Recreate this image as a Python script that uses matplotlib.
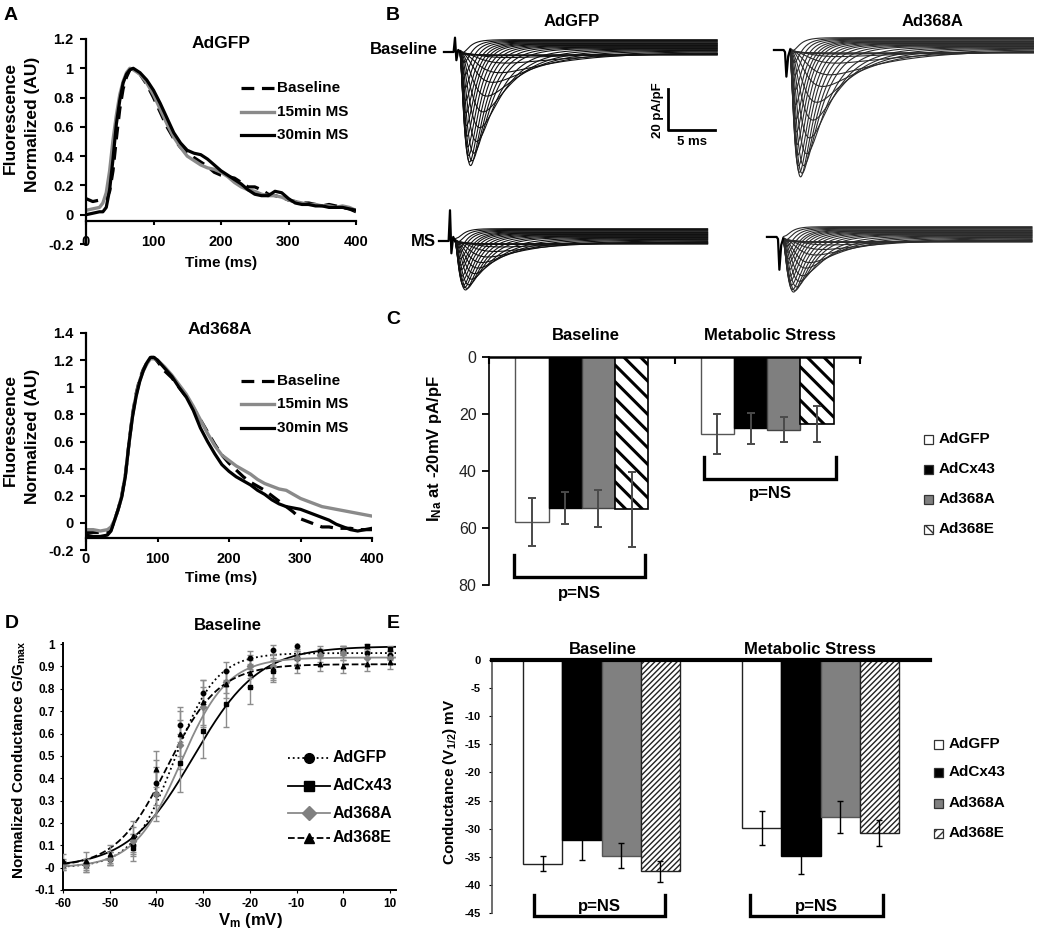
import numpy as np
import matplotlib
matplotlib.use("Agg")
import matplotlib.pyplot as plt
from matplotlib.patches import Rectangle
from matplotlib.lines import Line2D

# ---------------- data ----------------
# Panel A: normalized fluorescence transients
t_gfp = [0, 10, 20, 25, 30, 35, 40, 45, 50, 55, 60, 65, 70, 80, 90, 100, 110, 120, 130, 140,
         150, 160, 170, 180, 190, 200, 210, 220, 230, 240, 250, 260, 270, 280, 290, 300, 310,
         320, 330, 340, 350, 360, 370, 380, 390, 400]
gfp_baseline = [.11, .09, .10, .10, .11, .16, .30, .52, .72, .86, .94, .99, 1.0, .96, .89, .80,
                .70, .60, .52, .46, .42, .39, .36, .33, .29, .27, .26, .25, .22, .19, .19, .17,
                .14, .13, .12, .10, .09, .08, .08, .07, .06, .07, .06, .05, .04, .02]
gfp_15min = [.03, .04, .05, .08, .15, .30, .51, .68, .82, .91, .97, 1.0, .99, .96, .90, .82, .72,
             .62, .53, .46, .40, .37, .34, .32, .31, .29, .26, .22, .19, .17, .16, .14, .13, .13,
             .12, .10, .09, .08, .07, .07, .06, .06, .05, .06, .05, .03]
gfp_30min = [.00, .01, .02, .02, .05, .17, .38, .62, .78, .90, .96, .99, 1.0, .97, .92, .85, .76,
             .66, .56, .49, .44, .42, .41, .38, .34, .30, .27, .24, .21, .17, .14, .13, .13, .16,
             .15, .11, .08, .07, .07, .06, .06, .05, .05, .05, .04, .03]

t_368 = [0, 10, 20, 30, 35, 40, 45, 50, 55, 60, 65, 70, 75, 80, 85, 90, 95, 100, 110, 120, 130,
         140, 150, 160, 170, 180, 190, 200, 210, 220, 230, 240, 250, 260, 270, 280, 290, 300,
         310, 320, 330, 340, 350, 360, 370, 380, 390, 400]
a368_baseline = [-.07, -.07, -.07, -.07, -.05, .02, .10, .20, .35, .58, .80, .95, 1.06, 1.13, 1.18,
                 1.22, 1.22, 1.19, 1.12, 1.07, 1.0, .93, .85, .76, .67, .58, .50, .44, .39, .34,
                 .30, .27, .24, .20, .16, .12, .08, .03, .01, -.01, -.03, -.03, -.04, -.04, -.04,
                 -.05, -.05, -.05]
a368_15min = [-.05, -.05, -.06, -.05, -.03, .02, .10, .20, .35, .58, .79, .94, 1.05, 1.12, 1.17,
              1.21, 1.21, 1.20, 1.15, 1.09, 1.02, .95, .86, .76, .66, .57, .50, .46, .42, .39,
              .36, .32, .29, .27, .25, .24, .21, .18, .16, .14, .12, .11, .10, .09, .08, .07,
              .06, .05]
a368_30min = [-.09, -.10, -.10, -.09, -.06, .02, .10, .19, .34, .58, .78, .93, 1.04, 1.12, 1.18,
              1.22, 1.22, 1.20, 1.14, 1.08, 1.0, .93, .83, .70, .60, .51, .43, .38, .34, .31,
              .28, .24, .21, .17, .14, .12, .11, .10, .08, .06, .04, .02, -.01, -.03, -.05, -.06,
              -.05, -.04]
a_series = ["Baseline", "15min MS", "30min MS"]

# Panel B: sodium current families (peak pA/pF per voltage step, kinetics in ms)
steps_mv = [-80, -75, -70, -65, -60, -55, -50, -45, -40, -35, -30, -25, -20, -15, -10, -5, 0,
            5, 10, 15, 20, 25, 30, 35, 40]
peak_gfp_base = [0, .3, .8, 2, 5, 10, 15, 22, 30, 38, 45, 51, 55, 57.5, 56, 53, 49, 44, 39, 33,
                 27, 21, 15, 9, 4]
peak_368a_base = [0, .3, 1, 2.5, 6, 12, 18, 26, 35, 44, 52, 58, 62, 64, 62, 59, 54, 49, 43, 37,
                  30, 23, 16, 10, 4]
peak_gfp_ms = [0, .2, .5, 1, 2.5, 5, 8, 11, 14, 17, 20, 23, 25, 26, 25, 24, 22, 20, 17, 15, 12,
               9, 7, 4, 2]
peak_368a_ms = [0, .2, .5, 1, 2.5, 5, 8, 12, 15, 19, 22, 25, 27, 28, 27, 25, 23, 21, 18, 15, 13,
                10, 7, 4, 2]
tau_m = [2.4, 2.3, 2.2, 2.1, 2.0, 1.8, 1.55, 1.3, 1.15, 1.0, .85, .72, .62, .55, .5, .45, .41,
         .38, .35, .33, .31, .29, .28, .27, .26]
tau_h = [10, 9.5, 9, 8.5, 8, 6.5, 5, 4, 3.3, 2.8, 2.4, 2.0, 1.8, 1.6, 1.45, 1.35, 1.25, 1.15,
         1.1, 1.05, 1.0, .95, .9, .88, .85]
leak = [-1.5, -1.2, -1, -.7, -.4, -.1, .2, .5, .8, 1.1, 1.4, 1.7, 2, 2.3, 2.6, 2.9, 3.2, 3.5,
        3.8, 4.1, 4.4, 4.8, 5.2, 5.6, 6.0]
art_t = [-1.2, -0.15, 0.0, 0.15, 0.35, 0.55]
art_gfp_base = [0, 0, 7, -4, 1, 0]
art_368a_base = [0, 0, -1, -13, -3, 0]
art_gfp_ms = [0, 0, 15, -6, 2, 0]
art_368a_ms = [1, 1, 0, -15, -3, 0]
trace_end = [28.5, 27.0, 28.0, 27.6]

# Panel C: I_Na at -20 mV
groups = ["Baseline", "Metabolic Stress"]
constructs = ["AdGFP", "AdCx43", "Ad368A", "Ad368E"]
ina_baseline = [57.9, 53.0, 53.0, 53.5]
ina_baseline_err = [8.5, 5.5, 6.5, 13.0]
ina_ms = [27.0, 25.0, 25.5, 23.5]
ina_ms_err = [7.0, 5.5, 4.3, 6.3]

# Panel D: conductance-voltage
vm = [-60, -55, -50, -45, -40, -35, -30, -25, -20, -15, -10, -5, 0, 5, 10]
g_gfp = [.02, .02, .04, .10, .38, .64, .78, .88, .94, .975, .99, .97, .97, .96, .95]
g_cx43 = [.01, .01, .04, .09, .33, .47, .61, .73, .81, .88, .94, .96, .97, .99, .98]
g_368a = [.01, .01, .04, .12, .33, .55, .72, .83, .90, .90, .94, .95, .96, .94, .94]
g_368e = [.03, .03, .06, .14, .44, .60, .74, .82, .87, .89, .90, .91, .90, .91, .92]
g_gfp_err = [.02, .02, .03, .05, .10, .08, .06, .04, .03, .02, .02, .02, .02, .02, .02]
g_cx43_err = [.02, .03, .03, .06, .10, .13, .12, .10, .08, .05, .03, .02, .02, .01, .01]
g_368a_err = [.02, .03, .03, .06, .12, .11, .09, .05, .05, .05, .04, .03, .03, .03, .03]
g_368e_err = [.03, .04, .04, .07, .08, .10, .10, .06, .06, .05, .03, .03, .03, .03, .03]
fit_gmax = [0.96, 0.99, 0.94, 0.91]
fit_slope = [4.5, 7.0, 5.0, 5.5]

# Panel E: V1/2 of conductance
v12_baseline = [-36.2, -32.1, -34.8, -37.6]
v12_baseline_err = [1.4, 3.4, 2.2, 1.8]
v12_ms = [-29.9, -34.9, -27.9, -30.8]
v12_ms_err = [3.0, 3.2, 2.8, 2.3]

# ---------------- style ----------------
plt.rcParams.update({
    "font.family": "Liberation Sans",
    "mathtext.fontset": "custom",
    "mathtext.rm": "Liberation Sans",
    "mathtext.bf": "Liberation Sans:bold",
    "mathtext.it": "Liberation Sans:italic",
    "mathtext.default": "bf",
})
W, H = 1050, 931
fig = plt.figure(figsize=(W / 100, H / 100), dpi=100)


def add_ax(l, t, r, b):
    return fig.add_axes([l / W, 1 - b / H, (r - l) / W, (b - t) / H])


def ftext(x, y, s, **kw):
    kw.setdefault("ha", "center")
    kw.setdefault("va", "center")
    return fig.text(x / W, 1 - y / H, s, **kw)


def fline(xs, ys, **kw):
    fig.add_artist(Line2D([x / W for x in xs], [1 - y / H for y in ys],
                          transform=fig.transFigure, **kw))


GRAY_LINE = "#8a8a8a"
DASH = (0, (4, 2.4))

# panel letters
for lab, (x, y) in zip("ABCDE", [(11, 15), (393, 15), (393, 320), (12, 623), (393, 623)]):
    ftext(x, y, lab, fontsize=14, fontweight="bold")


# ---------------- Panel A ----------------
def panel_a(box, t, vals, ylim, yticks, xspine, title_xy, leg_y, ylab_y, xlab_y):
    ax = add_ax(*box)
    styles = [dict(color="k", ls=DASH, lw=2.3),
              dict(color=GRAY_LINE, ls="-", lw=2.4),
              dict(color="k", ls="-", lw=2.3)]
    for v, st in zip(vals, styles):
        ax.plot(t, v, solid_capstyle="round", **st)
    ax.set_xlim(0, 400)
    ax.set_ylim(*ylim)
    for s in ("top", "right"):
        ax.spines[s].set_visible(False)
    ax.spines["bottom"].set_position(("data", xspine))
    for s in ("left", "bottom"):
        ax.spines[s].set_linewidth(1.6)
    ax.set_yticks(yticks)
    ax.set_yticklabels([("%g" % v) for v in yticks], fontsize=10.5, fontweight="bold")
    ax.set_xticks([0, 100, 200, 300, 400])
    ax.set_xticklabels(["0", "100", "200", "300", "400"], fontsize=10.5, fontweight="bold")
    ax.tick_params(axis="y", direction="out", length=4, width=1.5, pad=5)
    ax.tick_params(axis="x", direction="out", length=3, width=1.5, pad=7)
    ax.patch.set_alpha(0)
    ftext(*title_xy, "AdGFP" if t is t_gfp else "Ad368A", fontsize=12.5, fontweight="bold")
    ftext(221, xlab_y, "Time (ms)", fontsize=11, fontweight="bold")
    ftext(10, ylab_y, "Fluorescence", fontsize=12.5, fontweight="bold", rotation=90)
    ftext(33, ylab_y + 6, "Normalized (AU)", fontsize=12.5, fontweight="bold", rotation=90)
    for lab, st, y in zip(a_series, styles, leg_y):
        fline([241, 274], [y, y], **st)
        ftext(277, y, lab, fontsize=11, fontweight="bold", ha="left")
    return ax


panel_a((86, 39, 356, 244), t_gfp, [gfp_baseline, gfp_15min, gfp_30min], (-0.2, 1.2),
        [-0.2, 0, 0.2, 0.4, 0.6, 0.8, 1.0, 1.2], -0.045, (221, 44), [88, 112, 135], 118, 263)
panel_a((86, 333, 372, 550), t_368, [a368_baseline, a368_15min, a368_30min], (-0.2, 1.4),
        [-0.2, 0, 0.2, 0.4, 0.6, 0.8, 1.0, 1.2, 1.4], -0.11, (220, 330), [381, 404, 428], 430, 578)

# ---------------- Panel B ----------------
PX_MS, PX_UNIT = 9.2, 2.05
panels_b = [
    (455, 52, peak_gfp_base, art_gfp_base, trace_end[0], "#111111", (-68, 12)),
    (785, 50, peak_368a_base, art_368a_base, trace_end[1], "#2b2b2b", (-72, 14)),
    (450, 241, peak_gfp_ms, art_gfp_ms, trace_end[2], "#111111", (-34, 17)),
    (778, 239, peak_368a_ms, art_368a_ms, trace_end[3], "#2b2b2b", (-34, 12)),
]
for t0, base, peaks, art, tend, col, ylim in panels_b:
    xlo, xhi = -1.6, 29.0
    ax = add_ax(t0 + xlo * PX_MS, base - ylim[1] * PX_UNIT, t0 + xhi * PX_MS, base - ylim[0] * PX_UNIT)
    ax.set_xlim(xlo, xhi)
    ax.set_ylim(*ylim)
    ax.axis("off")
    t = np.linspace(0.55, tend, 700)
    td = np.clip(t - 0.45, 0, None)
    fine = np.linspace(0, 60, 6000)
    for a, tm, th, lk in zip(peaks, tau_m, tau_h, leak):
        shape = (1 - np.exp(-td / tm)) ** 3 * np.exp(-td / th)
        pk = ((1 - np.exp(-fine / tm)) ** 3 * np.exp(-fine / th)).max()
        cur = -a * shape / pk + lk * (1 - np.exp(-td / 0.5))
        ax.plot(t, cur, color=col, lw=0.8)
    ax.plot(art_t, art, color="k", lw=1.6)

ftext(572, 22, "AdGFP", fontsize=12, fontweight="bold")
ftext(933, 22, "Ad368A", fontsize=12, fontweight="bold")
ftext(438, 50, "Baseline", fontsize=12, fontweight="bold", ha="right")
ftext(436, 242, "MS", fontsize=12, fontweight="bold", ha="right")
# scale bar (20 pA/pF, 5 ms)
fline([668, 668, 715], [89, 130, 130], color="k", lw=2.0)
ftext(658, 110, "20 pA/pF", fontsize=9.5, fontweight="bold", rotation=90)
ftext(692, 142, "5 ms", fontsize=9.5, fontweight="bold")


# ---------------- Panels C & E (bar charts) ----------------
def bar_panel(box, values, errs, ylim, yticks, ylabels, styles, ecolor, err_lw, capsize,
              tick_kw, spine_lw, brackets, leg_x, leg_y, ytl_kw, title_y, title_x):
    ax = add_ax(*box)
    ax.set_xlim(0, 2)
    ax.set_ylim(*ylim)
    w = 0.179
    for gi, (vals, es) in enumerate(zip(values, errs)):
        for i, (v, e, st) in enumerate(zip(vals, es, styles)):
            x = gi + 0.5 + (i - 1.5) * w
            with plt.rc_context({"hatch.linewidth": st.get("hlw", 1.0)}):
                ax.bar(x, v, width=w, color=st["fc"], edgecolor=st["ec"], lw=st["lw"],
                       hatch=st.get("hatch"), zorder=2)
            ax.errorbar(x, v, yerr=e, fmt="none", ecolor=ecolor, elinewidth=err_lw,
                        capsize=capsize, capthick=err_lw, zorder=3)
    ax.set_yticks(yticks)
    ax.set_yticklabels(ylabels, **ytl_kw)
    ax.tick_params(axis="y", **tick_kw)
    ax.spines["right"].set_visible(False)
    ax.spines["bottom"].set_visible(False)
    ax.spines["top"].set_linewidth(spine_lw)
    ax.spines["left"].set_linewidth(1.2)
    ax.patch.set_alpha(0)
    for (x0, x1, ytop, ybot, ytxt) in brackets:
        ax.plot([x0, x0, x1, x1], [ytop, ybot, ybot, ytop], color="k", lw=2.4,
                clip_on=False, solid_joinstyle="miter")
        ax.text((x0 + x1) / 2, ytxt, "p=NS", ha="center", va="center", fontsize=12,
                fontweight="bold", clip_on=False)
    for gx, g in zip(title_x, groups):
        ftext(gx, title_y, g, fontsize=12, fontweight="bold")
    for lab, st, y in zip(constructs, styles, leg_y):
        with plt.rc_context({"hatch.linewidth": 1.0}):
            fig.add_artist(Rectangle((leg_x / W, 1 - (y + 4.5) / H), 9 / W, 9 / H,
                                     transform=fig.transFigure, facecolor=st["fc"],
                                     edgecolor="#333333", lw=0.9, hatch=st.get("leghatch")))
        ftext(leg_x + 15, y, lab, fontsize=11, fontweight="bold", ha="left")
    return ax


styles_c = [dict(fc="white", ec="#555555", lw=1.0),
            dict(fc="black", ec="black", lw=1.0),
            dict(fc="#7f7f7f", ec="#444444", lw=1.0),
            dict(fc="white", ec="black", lw=1.2, hatch="\\\\", hlw=2.2, leghatch="\\\\\\")]
axc = bar_panel((489, 357, 860, 585), [ina_baseline, ina_ms], [ina_baseline_err, ina_ms_err],
                (80, 0), [0, 20, 40, 60, 80], ["0", "20", "40", "60", "80"], styles_c,
                "#4a4a4a", 1.4, 3.2, dict(direction="out", length=5, width=1.3, pad=4), 1.8,
                [(0.135, 0.84, 69.5, 77.2, 82.9), (1.16, 1.87, 35.1, 42.8, 47.8)],
                924, [439, 469, 499, 529], dict(fontsize=11.5, color="#222222"), 335, (586, 770))
axc.set_xticks([0, 1, 2])
axc.tick_params(axis="x", which="both", top=True, bottom=False, labeltop=False,
                labelbottom=False, direction="in", length=5, width=1.5)
ftext(434, 448, "I$_{Na}$ at -20mV pA/pF", fontsize=12, fontweight="bold", rotation=90)

styles_e = [dict(fc="white", ec="#222222", lw=1.0),
            dict(fc="black", ec="black", lw=1.0),
            dict(fc="#808080", ec="#555555", lw=1.0),
            dict(fc="white", ec="#222222", lw=1.0, hatch="//////", hlw=1.0, leghatch="////")]
e_ticks = [0, -5, -10, -15, -20, -25, -30, -35, -40, -45]
axe = bar_panel((492, 660, 930, 913), [v12_baseline, v12_ms], [v12_baseline_err, v12_ms_err],
                (-45, 0), e_ticks, [str(v) for v in e_ticks], styles_e, "black", 1.0, 2.5,
                dict(direction="out", length=2, width=0.8, pad=6), 3.0,
                [(0.19, 0.79, -41.8, -45.5, -43.8), (1.18, 1.785, -41.8, -45.5, -43.8)],
                934, [744, 772, 803, 833], dict(fontsize=8, fontweight="bold"), 649, (603, 810))
axe.set_xticks([])
axe.spines["left"].set_color("#555555")
ftext(450, 782, "Conductance (V$_{1/2}$) mV", fontsize=11, fontweight="bold", rotation=90)

# ---------------- Panel D ----------------
axd = add_ax(63, 643, 396, 890)
d_series = [(g_gfp, g_gfp_err, "o", "k", ":", "k"),
            (g_cx43, g_cx43_err, "s", "k", "-", "k"),
            (g_368a, g_368a_err, "D", "#808080", "-", GRAY_LINE),
            (g_368e, g_368e_err, "^", "k", "--", "k")]
vfit = np.linspace(-60, 11.3, 300)
for (g, ge, mk, mc, ls, lc), gm, k, vh in zip(d_series, fit_gmax, fit_slope, v12_baseline):
    axd.errorbar(vm, g, yerr=ge, fmt=mk, ms=3.2, color=mc, ecolor="#8c8c8c", elinewidth=1.0,
                 capsize=2, capthick=1.0, zorder=3)
    axd.plot(vfit, gm / (1 + np.exp((vh - vfit) / k)), color=lc, ls=ls, lw=1.3, zorder=2)
axd.set_xlim(-60, 11.3)
axd.set_ylim(-0.1, 1.005)
d_yt = [-0.1, 0, 0.1, 0.2, 0.3, 0.4, 0.5, 0.6, 0.7, 0.8, 0.9, 1.0]
axd.set_yticks(d_yt)
axd.set_yticklabels(["-0.1", "-0"] + ["%g" % v for v in d_yt[2:]], fontsize=8.5,
                    fontweight="bold")
axd.set_xticks([-60, -50, -40, -30, -20, -10, 0, 10])
axd.set_xticklabels(["-60", "-50", "-40", "-30", "-20", "-10", "0", "10"], fontsize=8.5,
                    fontweight="bold")
axd.tick_params(axis="both", direction="out", length=2, width=0.8, pad=4)
for s in ("top", "right"):
    axd.spines[s].set_visible(False)
for s in ("left", "bottom"):
    axd.spines[s].set_linewidth(1.4)
axd.patch.set_alpha(0)
ftext(228, 626, "Baseline", fontsize=12, fontweight="bold")
ftext(19, 760, "Normalized Conductance G/G$_{\\mathregular{max}}$", fontsize=11,
      fontweight="bold", rotation=90)
ftext(250, 920, "V$_{m}$ (mV)", fontsize=12, fontweight="bold")
for lab, (g, ge, mk, mc, ls, lc), y in zip(constructs, d_series, [758, 786, 813, 838]):
    fline([288, 330], [y, y], color=lc, ls=ls, lw=1.3)
    fig.add_artist(Line2D([309 / W], [1 - y / H], transform=fig.transFigure, marker=mk,
                          ms=7, color=mc, ls="none"))
    ftext(333, y, lab, fontsize=11.5, fontweight="bold", ha="left")

fig.savefig("out.png", dpi=100)
